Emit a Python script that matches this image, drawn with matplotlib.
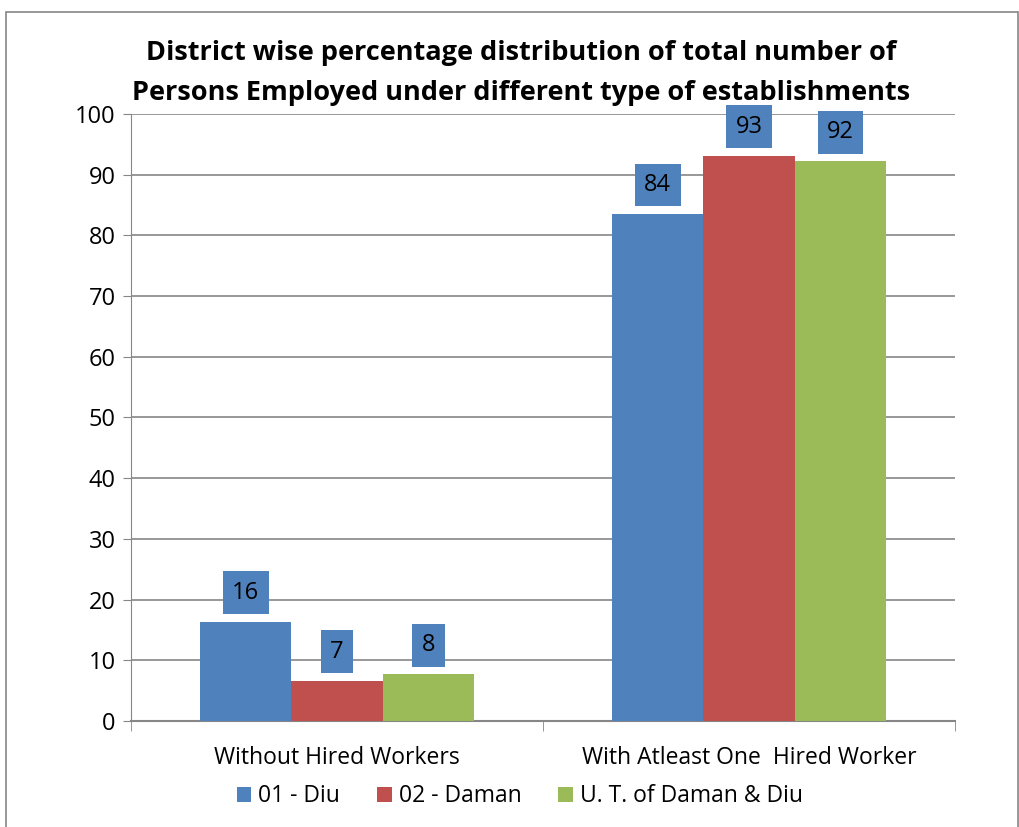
import matplotlib.pyplot as plt
import numpy as np

categories = ['Without Hired Workers', 'With Atleast One  Hired Worker']
series = ['01 - Diu', '02 - Daman', 'U. T. of Daman & Diu']
diu = [16.3, 83.5]
daman = [6.6, 93.1]
ut = [7.7, 92.2]
colors = ['#4f81bd', '#c0504d', '#9bbb59']

plt.rcParams['font.family'] = ['Open Sans', 'DejaVu Sans']

fig = plt.figure(figsize=(10.19, 8.27), dpi=100)
ax = fig.add_axes([0.1286, 0.1282, 0.8086, 0.734])

x = np.arange(len(categories))
w = 0.222
for i, (vals, name, c) in enumerate(zip([diu, daman, ut], series, colors)):
    bars = ax.bar(x + (i - 1) * w, vals, w, color=c, label=name, zorder=3)
    for b, v in zip(bars, vals):
        ax.annotate(f'{v:.0f}', (b.get_x() + b.get_width() / 2, v),
                    xytext=(0, 21), textcoords='offset points',
                    ha='center', va='center', fontsize=17, color='black',
                    bbox=dict(boxstyle='square,pad=0.4', fc='#4f81bd', ec='none'),
                    zorder=4)

ax.set_xlim(-0.5, 1.5)
ax.set_ylim(0, 100)
ax.set_yticks(range(0, 101, 10))
ax.set_xticks(x)
ax.set_xticklabels(categories, fontsize=16.5)
ax.set_xticks([-0.5, 0.5, 1.5], minor=True)
ax.tick_params(axis='x', which='major', length=0, pad=18)
ax.tick_params(axis='x', which='minor', length=7, color='#868686')
ax.tick_params(axis='y', length=6, color='#868686', labelsize=17, pad=5)
ax.grid(axis='y', color='#868686', linewidth=1.2, zorder=0)
for s in ['top', 'right']:
    ax.spines[s].set_visible(False)
ax.spines['left'].set_color('#868686')
ax.spines['bottom'].set_color('#868686')
ax.spines['bottom'].set_linewidth(1.5)

fig.suptitle('District wise percentage distribution of total number of\nPersons Employed under different type of establishments',
             x=0.511, y=0.952, fontsize=19.5, fontweight='bold', linespacing=1.7)

fig.legend(loc='center', bbox_to_anchor=(0.51, 0.037), ncol=3, frameon=False,
           fontsize=16.5, handlelength=0.65, handleheight=0.65, columnspacing=1.6,
           handletextpad=0.3)

fig.add_artist(plt.Rectangle((0.006, -0.05), 0.993, 1.036, transform=fig.transFigure,
                             fill=False, ec='#868686', lw=1.2))

fig.savefig('out.png', dpi=100)
